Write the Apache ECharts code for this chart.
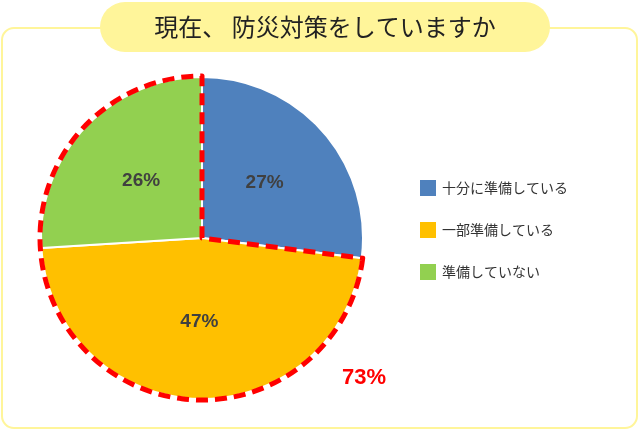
<!DOCTYPE html>
<html><head><meta charset="utf-8">
<script src="https://cdn.jsdelivr.net/npm/echarts@6/dist/echarts.min.js"></script>
<style>html,body{margin:0;padding:0;background:#fff}#c{width:640px;height:430px}</style>
</head><body><div id="c"></div>
<script>
const title = '現在、 防災対策をしていますか';
const categories = ['十分に準備している', '一部準備している', '準備していない'];
const values = [27, 47, 26];
const colors = ['#4F81BD', '#FFC000', '#92D050'];
const highlightLabel = '73%';
const highlightValue = values[1] + values[2];

const chart = echarts.init(document.getElementById('c'));
chart.setOption({
  animation: false,
  graphic: [
    {type:'rect', shape:{x:2,y:28,width:635,height:400,r:12}, style:{fill:'#fff',stroke:'#FFF59A',lineWidth:2}, z:0},
    {type:'rect', shape:{x:100,y:2,width:450,height:50,r:25}, style:{fill:'#FFF59A'}, z:1},
    {type:'text', x:325, y:27, style:{text:title, font:'24px "Noto Sans CJK JP"', fill:'#222', align:'center', verticalAlign:'middle'}, z:2},
    {type:'text', x:364, y:378, style:{text:highlightLabel, font:'bold 22px "Liberation Sans Narrow", "Liberation Sans"', fill:'#FF0000', align:'center', verticalAlign:'middle'}, z:2}
  ],
  legend: {
    orient:'vertical', left:413, top:173, itemGap:22, itemWidth:18, itemHeight:18,
    icon:'rect', textStyle:{fontSize:14, color:'#333', fontFamily:'"Noto Sans CJK JP"'},
    data: categories
  },
  series: [
    {
      type:'pie', center:[202,238], radius:[0,161], startAngle:90, clockwise:true,
      label:{show:true, position:'inside', formatter:'{c}%', fontSize:19, fontWeight:'bold', color:'#404040', fontFamily:'"Liberation Sans Narrow", "Liberation Sans"'},
      labelLine:{show:false},
      itemStyle:{borderColor:'#fff', borderWidth:2},
      data: categories.map((n,i)=>({name:n, value:values[i], itemStyle:{color:colors[i]}})),
      z:2
    },
    {
      type:'pie', center:[202,238], radius:[0,162], startAngle:90, clockwise:true, silent:true,
      label:{show:false}, labelLine:{show:false}, legendHoverLink:false,
      data:[
        {name:'_a', value:values[0], itemStyle:{color:'transparent', borderWidth:0}},
        {name:'_b', value:highlightValue, itemStyle:{color:'transparent', borderColor:'#FF0000', borderWidth:5, borderType:[12,7]}}
      ],
      z:3
    }
  ]
});
</script></body></html>
